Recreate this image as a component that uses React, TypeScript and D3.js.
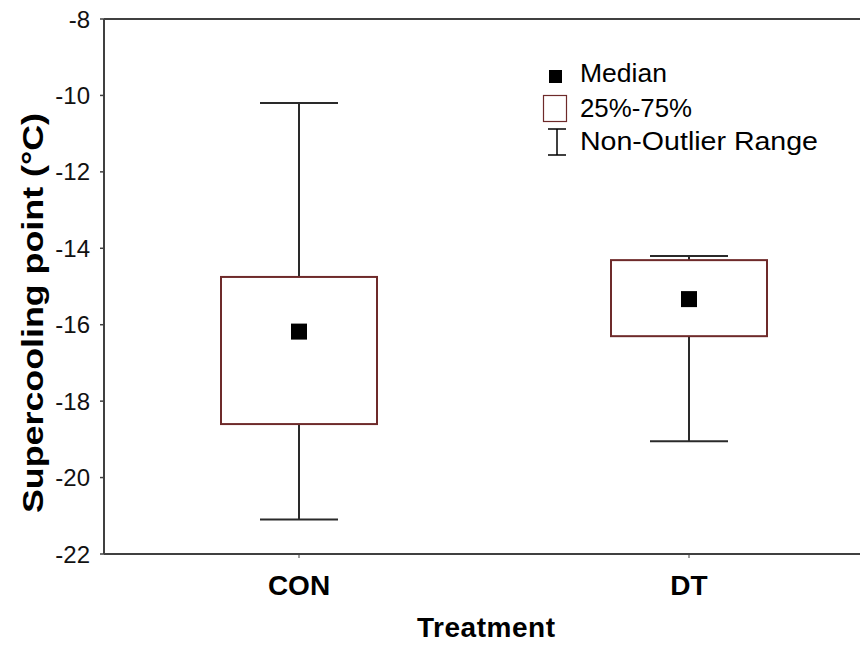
import { useMemo } from "react";
import * as d3 from "d3";

const categories = ["CON", "DT"];
const medians = [-16.18, -15.33];
const q1 = [-18.6, -16.3];
const q3 = [-14.75, -14.31];
const whiskerLow = [-21.1, -19.05];
const whiskerHigh = [-10.2, -14.2];
const yTicks = [-22, -20, -18, -16, -14, -12, -10, -8];

const W = 860;
const H = 646;
const margin = { top: 19, left: 104, bottom: 92 };
const AXIS = "#404040";
const BOX = "#6e2a2a";
const FONT = "Liberation Sans, Arial, sans-serif";

export default function App() {
  const { x, y } = useMemo(() => {
    // two bands of ~390px; the right one runs past the page edge as in the original
    const x = d3
      .scaleBand<string>()
      .domain(categories)
      .range([margin.left, margin.left + 780]);
    const y = d3
      .scaleLinear()
      .domain([-22, -8])
      .range([H - margin.bottom, margin.top]);
    return { x, y };
  }, []);

  const bw = x.bandwidth();
  const boxW = bw * 0.4;
  const capW = bw * 0.2;
  const med = 16;

  return (
    <svg
      width={W}
      height={H}
      style={{ position: "absolute", left: 0, top: 0, display: "block" }}
      fontFamily={FONT}
    >
      <rect width={W} height={H} fill="#fff" />

      {/* frame */}
      <line x1={margin.left} x2={W} y1={y(-8)} y2={y(-8)} stroke={AXIS} strokeWidth={2} />
      <line x1={margin.left} x2={W} y1={y(-22)} y2={y(-22)} stroke={AXIS} strokeWidth={2} />
      <line x1={margin.left} x2={margin.left} y1={y(-8)} y2={y(-22)} stroke={AXIS} strokeWidth={2} />

      {yTicks.map((t) => (
        <g key={t}>
          <line x1={margin.left - 4} x2={margin.left} y1={y(t)} y2={y(t)} stroke={AXIS} strokeWidth={1.5} />
          <text
            x={90}
            y={y(t)}
            dy="0.36em"
            textAnchor="end"
            fontSize={24}
            fill="#111"
          >
            {t}
          </text>
        </g>
      ))}

      {/* boxes */}
      {categories.map((c, i) => {
        const cx = (x(c) ?? 0) + bw / 2;
        return (
          <g key={c}>
            <line x1={cx} x2={cx} y1={y(whiskerHigh[i])} y2={y(q3[i])} stroke="#2a2a2a" strokeWidth={2} />
            <line x1={cx} x2={cx} y1={y(q1[i])} y2={y(whiskerLow[i])} stroke="#2a2a2a" strokeWidth={2} />
            <line x1={cx - capW / 2} x2={cx + capW / 2} y1={y(whiskerHigh[i])} y2={y(whiskerHigh[i])} stroke="#2a2a2a" strokeWidth={2} />
            <line x1={cx - capW / 2} x2={cx + capW / 2} y1={y(whiskerLow[i])} y2={y(whiskerLow[i])} stroke="#2a2a2a" strokeWidth={2} />
            <rect
              x={cx - boxW / 2}
              y={y(q3[i])}
              width={boxW}
              height={y(q1[i]) - y(q3[i])}
              fill="none"
              stroke={BOX}
              strokeWidth={2}
            />
            <rect x={cx - med / 2} y={y(medians[i]) - med / 2} width={med} height={med} fill="#000" />
            <line x1={cx} x2={cx} y1={y(-22)} y2={y(-22) + 4} stroke={AXIS} strokeWidth={1} />
            <text x={cx} y={595} textAnchor="middle" fontSize={28} fontWeight="bold" fill="#000">
              {c}
            </text>
          </g>
        );
      })}

      {/* axis titles */}
      <text x={486} y={637} textAnchor="middle" fontSize={28} fontWeight="bold" textLength={138}>
        Treatment
      </text>
      <text
        transform="translate(43,313) rotate(-90)"
        textAnchor="middle"
        fontSize={29}
        fontWeight="bold"
        textLength={400}
        lengthAdjust="spacingAndGlyphs"
      >
        Supercooling point (°C)
      </text>

      {/* legend */}
      <g fontSize={25} fill="#000">
        <rect x={549} y={70} width={13} height={13} fill="#000" />
        <text x={580} y={82} textLength={87} lengthAdjust="spacingAndGlyphs">Median</text>
        <rect x={543.5} y={95.5} width={23} height={26} fill="none" stroke={BOX} strokeWidth={1.2} />
        <text x={580} y={117} textLength={112} lengthAdjust="spacingAndGlyphs">25%-75%</text>
        <line x1={557} x2={557} y1={129} y2={155} stroke="#000" strokeWidth={1.5} />
        <line x1={548} x2={566} y1={129} y2={129} stroke="#000" strokeWidth={1.5} />
        <line x1={548} x2={566} y1={155} y2={155} stroke="#000" strokeWidth={1.5} />
        <text x={580} y={150} textLength={238} lengthAdjust="spacingAndGlyphs">Non-Outlier Range</text>
      </g>
    </svg>
  );
}
